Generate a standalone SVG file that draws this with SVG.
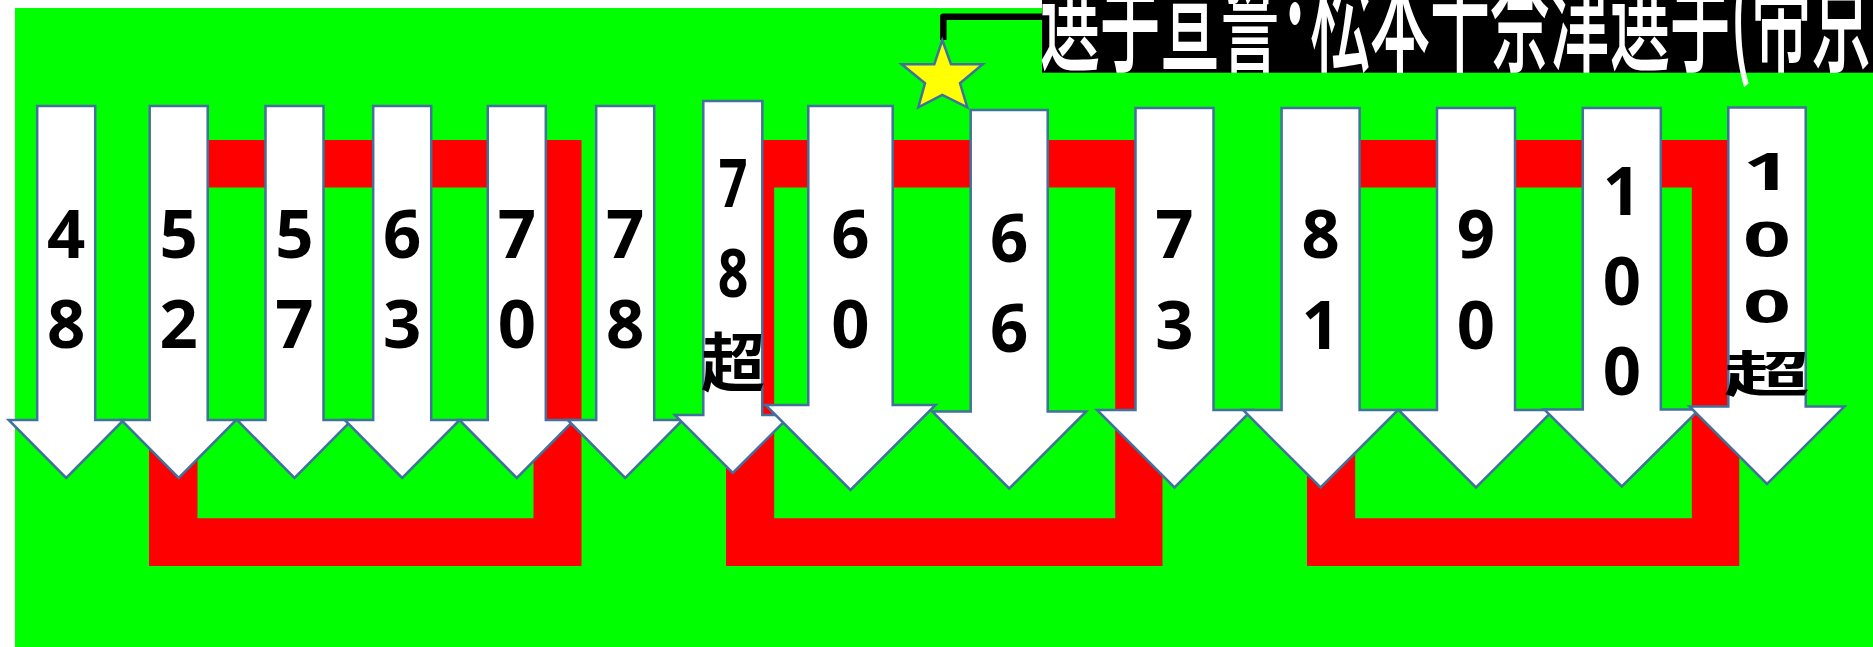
<svg xmlns="http://www.w3.org/2000/svg" width="1873" height="647" viewBox="0 0 1873 647">
<style>
.ar{fill:#fff;stroke:#41719C;stroke-width:2.5;stroke-linejoin:miter}
.fr{fill:#f00;fill-rule:evenodd}
.n{font-family:"Noto Sans","Liberation Sans",sans-serif;font-weight:700;font-size:67px;text-anchor:middle;fill:#000}
.k{font-family:"Noto Sans CJK JP","Noto Sans",sans-serif;font-weight:700;font-size:64px;text-anchor:middle;fill:#000}
.t{font-family:"Noto Sans CJK JP","Noto Sans",sans-serif;font-weight:500;font-size:60px;fill:#fff}
</style>
<rect x="0" y="0" width="1873" height="647" fill="#fff"/>
<rect x="15" y="8" width="1858" height="639" fill="#00FF00"/>
<g id="frames">
<path class="fr" d="M149,140H581.5V566H149Z M197.5,187.5V518.3H533.5V187.5Z"/>
<path class="fr" d="M726,140H1162.5V566H726Z M774.2,187.5V518.3H1115.2V187.5Z"/>
<path class="fr" d="M1307,140H1739.3V566H1307Z M1355.2,187.5V518.3H1691.8V187.5Z"/>
</g>
<g id="arrow-48"><polygon class="ar" points="37.2,106 95.2,106 95.2,420 123.7,420 66.2,478 8.7,420 37.2,420"/><text class="n" x="66.2" y="258">4</text><text class="n" x="66.2" y="348">8</text></g>
<g id="arrow-52"><polygon class="ar" points="149.7,106 207.7,106 207.7,420 236.2,420 178.7,478 121.2,420 149.7,420"/><text class="n" x="178.7" y="258">5</text><text class="n" x="178.7" y="348">2</text></g>
<g id="arrow-57"><polygon class="ar" points="265.5,106 323.5,106 323.5,420 352,420 294.5,478 237,420 265.5,420"/><text class="n" x="294.5" y="258">5</text><text class="n" x="294.5" y="348">7</text></g>
<g id="arrow-63"><polygon class="ar" points="373.2,106 431.2,106 431.2,420 459.7,420 402.2,478 344.7,420 373.2,420"/><text class="n" x="402.2" y="258">6</text><text class="n" x="402.2" y="348">3</text></g>
<g id="arrow-70"><polygon class="ar" points="487.8,106 545.8,106 545.8,420 574.3,420 516.8,478 459.3,420 487.8,420"/><text class="n" x="516.8" y="258">7</text><text class="n" x="516.8" y="348">0</text></g>
<g id="arrow-78"><polygon class="ar" points="596.2,106 654.2,106 654.2,420 682.7,420 625.2,478 567.7,420 596.2,420"/><text class="n" x="625.2" y="258">7</text><text class="n" x="625.2" y="348">8</text></g>
<g id="arrow-78plus"><polygon class="ar" points="703.3,101 762.3,101 762.3,415 790.8,415 732.8,473 674.8,415 703.3,415"/><text class="n" transform="translate(733,207) scale(0.75,1)" x="0" y="0">7</text><text class="n" transform="translate(733,297) scale(0.8,1)" x="0" y="0">8</text><text class="k" x="733" y="386">超</text></g>
<g id="arrow-60"><polygon class="ar" points="808.3,106 892.7,106 892.7,405 935.5,405 850.5,490 765.5,405 808.3,405"/><text class="n" x="850.5" y="258">6</text><text class="n" x="850.5" y="348">0</text></g>
<g id="arrow-66"><polygon class="ar" points="970.7,110 1047.7,110 1047.7,411.5 1086.2,411.5 1009.2,488.5 932.2,411.5 970.7,411.5"/><text class="n" x="1009.2" y="262">6</text><text class="n" x="1009.2" y="352">6</text></g>
<g id="arrow-73"><polygon class="ar" points="1135.5,108 1213.5,108 1213.5,410 1252,410 1174.5,487.5 1097,410 1135.5,410"/><text class="n" x="1174.5" y="258">7</text><text class="n" x="1174.5" y="349">3</text></g>
<g id="arrow-81"><polygon class="ar" points="1281.6,108 1359.6,108 1359.6,410 1398.1,410 1320.6,487.5 1243.1,410 1281.6,410"/><text class="n" x="1320.6" y="258">8</text><text class="n" x="1320.6" y="349">1</text></g>
<g id="arrow-90"><polygon class="ar" points="1437,108 1515,108 1515,410 1553.5,410 1476,487.5 1398.5,410 1437,410"/><text class="n" x="1476" y="258">9</text><text class="n" x="1476" y="349">0</text></g>
<g id="arrow-100"><polygon class="ar" points="1582.8,108 1660.8,108 1660.8,409.5 1699.3,409.5 1621.8,486.5 1544.3,409.5 1582.8,409.5"/><text class="n" x="1621.8" y="215">1</text><text class="n" x="1621.8" y="305">0</text><text class="n" x="1621.8" y="395">0</text></g>
<g id="arrow-100plus"><polygon class="ar" points="1728.3,107.5 1805.7,107.5 1805.7,406.5 1844.5,406.5 1767,484 1689.5,406.5 1728.3,406.5"/><text class="n" transform="translate(1767,190) scale(1.25,0.77)" x="0" y="0">1</text><text class="n" transform="translate(1767,257) scale(1.25,0.73)" x="0" y="0">0</text><text class="n" transform="translate(1767,323) scale(1.25,0.7)" x="0" y="0">0</text><text class="k" transform="translate(1767,392) scale(1.35,0.76)" x="0" y="0">超</text></g>
<g id="connectors">
<path d="M943.3,40V16.7H1042" fill="none" stroke="#000" stroke-width="6.5" stroke-linejoin="round"/>
</g>
<g id="star">
<polygon points="942.3,40 951,64.3 982.7,64.3 960,83.3 967.3,107.3 942.3,95 918.3,107.3 925,83.3 901.7,64.3 934.3,64.3" fill="#FFFF00" stroke="#41719C" stroke-width="2.5" stroke-linejoin="miter"/>
</g>
<g id="title">
<rect x="1042" y="0" width="831" height="72.7" fill="#000"/>
<text class="t" transform="scale(1,2.12)" x="1040" y="29.2">選手宣誓･松本千奈津選手(帝京大</text>
</g>
</svg>
